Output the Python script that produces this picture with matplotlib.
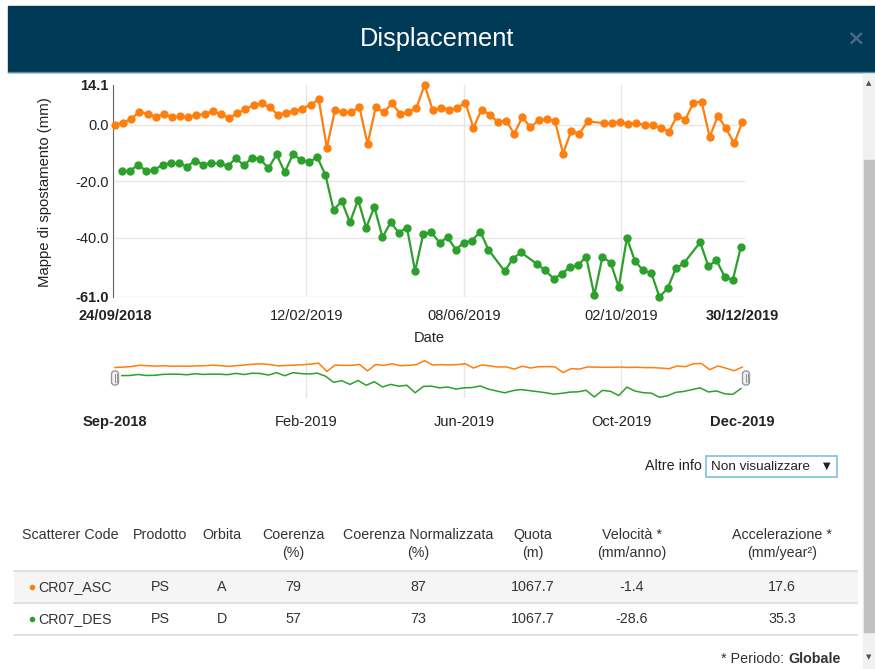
import numpy as np
import pandas as pd
import matplotlib
matplotlib.use('Agg')
import matplotlib.pyplot as plt
from matplotlib.patches import Rectangle, FancyBboxPatch

plt.rcParams['font.family'] = ['Liberation Sans', 'DejaVu Sans']

# --- data ---
asc_start = '2018-09-24'   # ascending orbit, one scene every 6 days
des_start = '2018-09-29'   # descending orbit
asc_values = [0.0, 0.8, 2.1, 4.7, 3.8, 2.9, 3.8, 2.7, 3.0, 2.7, 3.5, 3.8, 4.9, 3.7, 2.4, 4.1,
              5.5, 7.0, 7.6, 6.2, 3.5, 4.3, 5.0, 5.7, 7.1, 9.0, -8.1, 5.1, 4.5, 4.5, 6.3, -6.8,
              6.2, 4.5, 7.6, 3.9, 4.5, 6.0, 14.1, 5.2, 6.0, 5.4, 6.0, 7.8, -1.0, 5.4, 3.5, 1.0,
              1.5, -3.2, 2.7, -0.9, 1.7, 1.9, 1.5, -10.2, -2.2, -3.2, 1.2, np.nan, 0.6, 0.6, 1.0,
              0.2, 0.6, -0.1, -0.1, -1.1, -2.4, 3.2, 1.8, 7.8, 8.2, -4.4, 3.2, -1.3, -6.6, 0.9]
des_values = [-16.5, -16.3, -14.2, -16.3, -16.0, -14.1, -13.5, -13.7, -14.8, -12.7, -14.1, -13.5,
              -13.7, -14.6, -11.9, -14.4, -11.6, -12.2, -15.4, -10.5, -16.8, -10.5, -12.4, -13.2,
              -11.5, -17.8, -30.2, -27.0, -34.6, -26.6, -36.4, -29.1, -39.8, -34.6, -38.2, -36.4,
              -51.8, -38.8, -38.1, -41.7, -39.9, -44.2, -41.7, -41.0, -37.8, -44.2, np.nan, -51.9,
              -47.4, -45.2, np.nan, -49.4, -51.6, -54.5, -52.9, -50.4, -49.8, -46.7, -60.4, -46.8,
              -48.8, -57.5, -40.1, -48.3, -51.6, -52.5, -61.0, -57.9, -50.9, -49.0, np.nan, -41.6,
              -50.1, -48.0, -53.8, -55.0, -43.2]

y_ticks = [14.1, 0.0, -20.0, -40.0, -61.0]
x_ticks = ['2018-09-24', '2019-02-12', '2019-06-08', '2019-10-02', '2019-12-30']
x_labels = ['24/09/2018', '12/02/2019', '08/06/2019', '02/10/2019', '30/12/2019']
nav_labels = ['Sep-2018', 'Feb-2019', 'Jun-2019', 'Oct-2019', 'Dec-2019']

table_cols = ['Scatterer Code', 'Prodotto', 'Orbita', 'Coerenza\n(%)', 'Coerenza Normalizzata\n(%)',
              'Quota\n(m)', 'Velocità *\n(mm/anno)', 'Accelerazione *\n(mm/year²)']
codes = ['CR07_ASC', 'CR07_DES']
prodotto = ['PS', 'PS']
orbita = ['A', 'D']
coerenza = [79, 57]
coer_norm = [87, 73]
quota = [1067.7, 1067.7]
velocita = [-1.4, -28.6]
accel = [17.6, 35.3]

orange, green = '#ff7f0e', '#2ca02c'
fs = 10.3  # body text size

asc = pd.Series(asc_values, index=pd.date_range(asc_start, periods=len(asc_values), freq='6D')).dropna()
des = pd.Series(des_values, index=pd.date_range(des_start, periods=len(des_values), freq='6D')).dropna()
tick_dates = pd.to_datetime(x_ticks)
xlim = (pd.Timestamp('2018-09-22 12:00'), pd.Timestamp('2020-01-01'))

W, H = 875, 669
fig = plt.figure(figsize=(W / 100, H / 100), dpi=100)


def box(x, y, w, h):
    return [x / W, 1 - (y + h) / H, w / W, h / H]


# page / modal layer, in pixel coordinates
bg = fig.add_axes([0, 0, 1, 1], zorder=0)
bg.set_xlim(0, W)
bg.set_ylim(H, 0)
bg.axis('off')

bg.add_patch(Rectangle((8, 6), W - 8, 66, color='#013a57'))
bg.plot([8, W], [72, 72], color='#5d8aa3', lw=1)
bg.text(437, 39, 'Displacement', color='white', fontsize=18.3, ha='center', va='center')
bg.text(856, 38, '×', color='#46697f', fontsize=16, fontweight='bold', ha='center', va='center',
        family=['DejaVu Sans'])

# scrollbar
bg.add_patch(Rectangle((863, 73), 12, H - 73, color='#f1f1f1'))
bg.add_patch(Rectangle((864, 160), 10, 472, color='#c1c1c1'))
bg.text(869, 83, '▲', fontsize=5, color='#505050', ha='center', va='center', family=['DejaVu Sans'])
bg.text(869, 657, '▼', fontsize=5, color='#505050', ha='center', va='center', family=['DejaVu Sans'])

# --- main chart ---
ax = fig.add_axes(box(113, 85, 632, 212), zorder=2)
ax.patch.set_alpha(0)
ax.plot(asc.index, asc.values, color=orange, lw=1.6, marker='o', ms=5, clip_on=False, zorder=3)
ax.plot(des.index, des.values, color=green, lw=1.6, marker='o', ms=5, clip_on=False, zorder=3)
ax.set_xlim(*xlim)
ax.set_ylim(-61.0, 14.1)
ax.set_yticks(y_ticks)
ax.set_yticklabels([f'{v:.1f}' for v in y_ticks])
ax.set_xticks(tick_dates)
ax.set_xticklabels(x_labels)
ax.tick_params(length=0, labelsize=10.5, colors='#222222')
ax.tick_params(axis='y', pad=3)
ax.tick_params(axis='x', pad=9)
for lab in [ax.get_yticklabels()[0], ax.get_yticklabels()[-1],
            ax.get_xticklabels()[0], ax.get_xticklabels()[-1]]:
    lab.set_fontweight('bold')
ax.grid(True, color='#e6e6e6', lw=1)
ax.get_ygridlines()[0].set_visible(False)
ax.get_xgridlines()[0].set_visible(False)
ax.get_xgridlines()[-1].set_visible(False)
for s in ['top', 'right', 'bottom']:
    ax.spines[s].set_visible(False)
ax.spines['left'].set_color('#666666')

bg.text(429, 338, 'Date', fontsize=10.5, ha='center', va='center', color='#222222')
bg.text(45, 192, 'Mappe di spostamento (mm)', fontsize=10.7, rotation=90, ha='center', va='center',
        color='#222222')

# --- navigator ---
nav = fig.add_axes(box(113, 360, 632, 38), zorder=2)
nav.patch.set_alpha(0)
nav.plot(asc.index, asc.values, color=orange, lw=1.1)
nav.plot(des.index, des.values, color=green, lw=1.1)
nav.set_xlim(*xlim)
nav.set_ylim(-62.5, 15.5)
nav.set_yticks([])
nav.set_xticks(tick_dates)
nav.set_xticklabels(nav_labels)
nav.tick_params(length=0, labelsize=10.5, colors='#222222', pad=12)
nav.get_xticklabels()[0].set_fontweight('bold')
nav.get_xticklabels()[-1].set_fontweight('bold')
nav.grid(True, axis='x', color='#e6e6e6', lw=1)
nav.get_xgridlines()[0].set_visible(False)
nav.get_xgridlines()[-1].set_visible(False)
for s in nav.spines.values():
    s.set_visible(False)

for hx in (115, 746):
    bg.add_patch(FancyBboxPatch((hx - 3.5, 371), 7, 14, boxstyle='round,pad=0,rounding_size=3',
                                fc='#f2f2f2', ec='#999999', lw=1, zorder=3))
    bg.plot([hx - 0.5, hx - 0.5], [374, 382], color='#999999', lw=0.8, zorder=4)
    bg.plot([hx + 1.5, hx + 1.5], [374, 382], color='#999999', lw=0.8, zorder=4)

# --- "Altre info" selector ---
bg.text(702, 466, 'Altre info', fontsize=fs, ha='right', va='center', color='#222222')
bg.add_patch(Rectangle((706, 456), 131, 21, fc='white', ec='#7fbde0', lw=1.2))
bg.text(711, 466.5, 'Non visualizzare', fontsize=9.7, ha='left', va='center', color='#222222')
bg.text(827, 466, '▼', fontsize=7, ha='center', va='center', color='#222222', family=['DejaVu Sans'])

# --- table ---
col_x = [70, 160, 222, 293, 418, 533, 632, 782]
for cx, head in zip(col_x, table_cols):
    for k, line in enumerate(head.split('\n')):
        bg.text(cx, 535 + 18 * k, line, fontsize=fs, ha='center', va='center', color='#333333')

bg.add_patch(Rectangle((14, 572), 843, 31, color='#f5f5f5', zorder=0))
for ly in (571, 603, 635):
    bg.plot([14, 857], [ly, ly], color='#dcdcdc', lw=1.2)

row_y = [587, 619]
for i, ry in enumerate(row_y):
    dot = orange if i == 0 else green
    bg.plot(32, ry, 'o', color=dot, ms=3)
    bg.text(38, ry, codes[i], fontsize=fs, ha='left', va='center', color='#333333')
    cells = [prodotto[i], orbita[i], f'{coerenza[i]}', f'{coer_norm[i]}', f'{quota[i]:.1f}',
             f'{velocita[i]:.1f}', f'{accel[i]:.1f}']
    for cx, val in zip(col_x[1:], cells):
        bg.text(cx, ry, val, fontsize=fs, ha='center', va='center', color='#333333')

bg.text(788, 659, '* Periodo: ', fontsize=fs, ha='right', va='center', color='#333333')
bg.text(788, 659, 'Globale', fontsize=fs, fontweight='bold', ha='left', va='center', color='#333333')

fig.savefig('out.png', dpi=100)
